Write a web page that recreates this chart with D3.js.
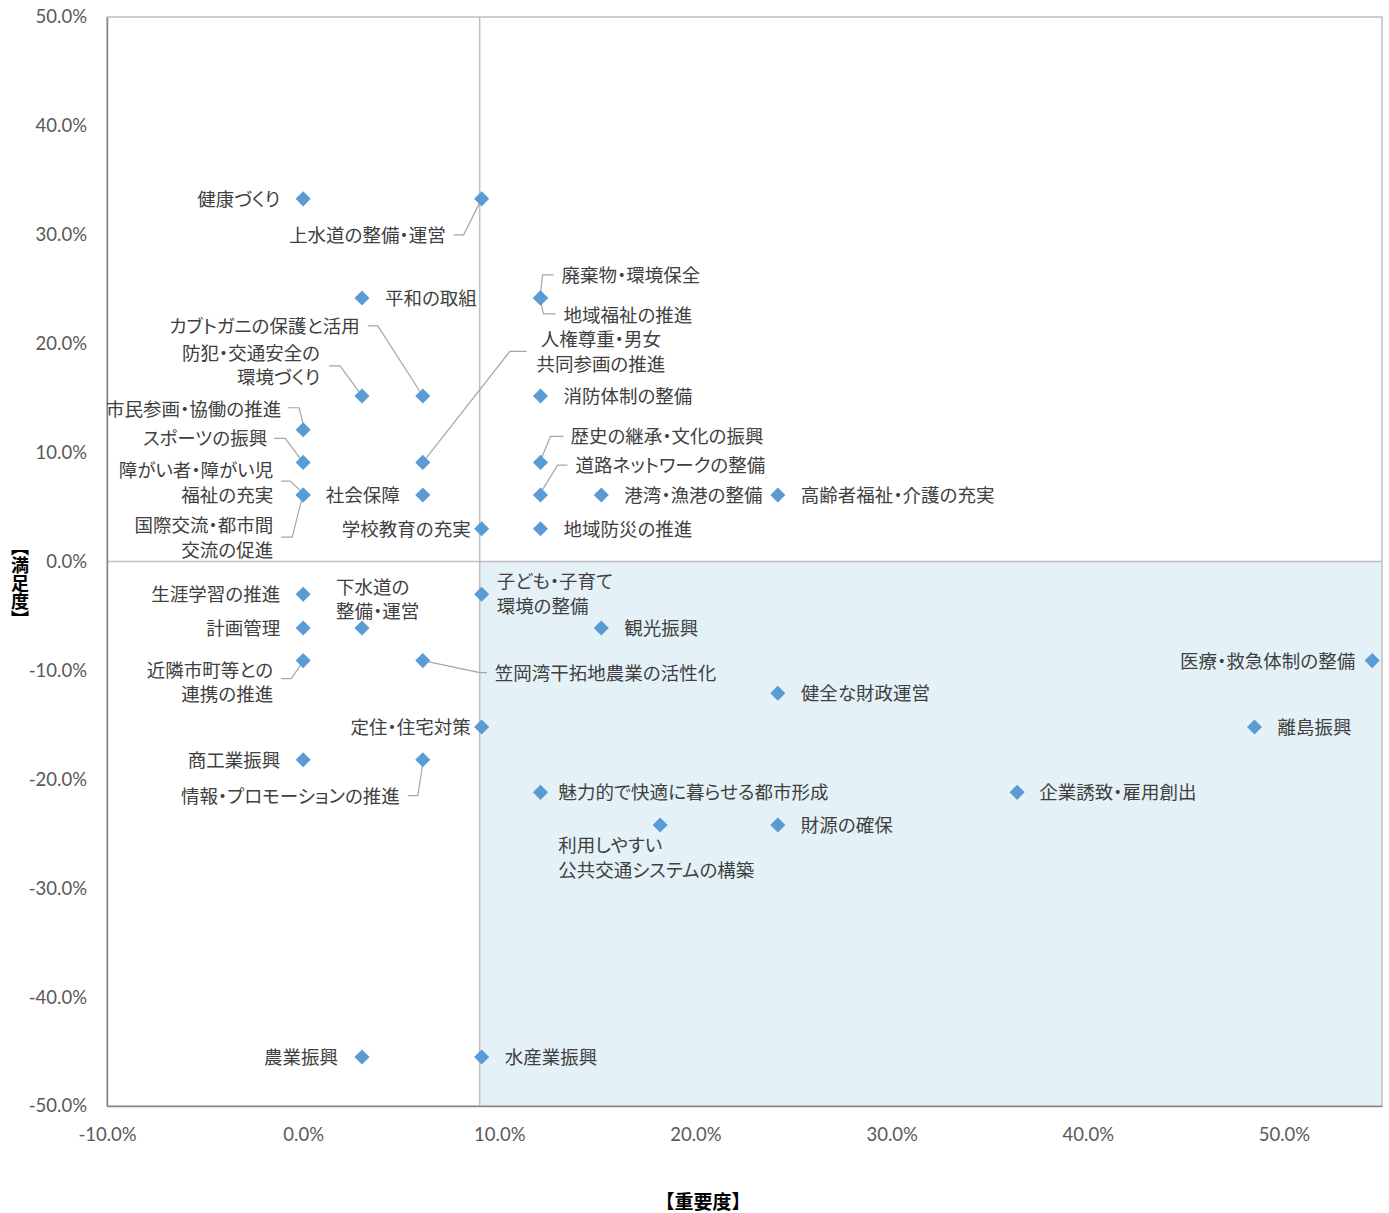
<!DOCTYPE html>
<html>
<head>
<meta charset="utf-8">
<script src="https://cdn.jsdelivr.net/npm/d3@7"></script>
<style>
  body { margin: 0; background: #fff; }
  svg { display: block; }
</style>
</head>
<body>
<svg id="chart" width="1389" height="1213"></svg>
<script>
// items (policy areas), importance (x, %) and satisfaction (y, %)
const names = [
  '健康づくり', '上水道の整備・運営', '平和の取組', '廃棄物・環境保全', '地域福祉の推進',
  'カブトガニの保護と活用', '防犯・交通安全の\n環境づくり', '人権尊重・男女\n共同参画の推進', '消防体制の整備',
  '市民参画・協働の推進', 'スポーツの振興', '障がい者・障がい児\n福祉の充実', '国際交流・都市間\n交流の促進',
  '社会保障', '学校教育の充実', '歴史の継承・文化の振興', '道路ネットワークの整備', '港湾・漁港の整備',
  '高齢者福祉・介護の充実', '地域防災の推進', '子ども・子育て\n環境の整備', '生涯学習の推進',
  '下水道の\n整備・運営', '計画管理', '観光振興', '近隣市町等との\n連携の推進', '笠岡湾干拓地農業の活性化',
  '医療・救急体制の整備', '健全な財政運営', '離島振興', '定住・住宅対策', '商工業振興',
  '情報・プロモーションの推進', '魅力的で快適に暮らせる都市形成', '企業誘致・雇用創出',
  '利用しやすい\n公共交通システムの構築', '財源の確保', '農業振興', '水産業振興'
];
const importance = [
  0, 9.1, 3.0, 12.1, 12.1,
  6.1, 3.0, 6.1, 12.1,
  0, 0, 0, 0,
  6.1, 9.1, 12.1, 12.1, 15.2,
  24.2, 12.1, 9.1, 0,
  3.0, 0, 15.2, 0, 6.1,
  54.5, 24.2, 48.5, 9.1, 0,
  6.1, 12.1, 36.4,
  18.2, 24.2, 3.0, 9.1
];
const satisfaction = [
  33.3, 33.3, 24.2, 24.2, 24.2,
  15.2, 15.2, 9.1, 15.2,
  12.1, 9.1, 6.1, 6.1,
  6.1, 3.0, 9.1, 6.1, 6.1,
  6.1, 3.0, -3.0, -3.0,
  -6.1, -6.1, -6.1, -9.1, -9.1,
  -9.1, -12.1, -15.2, -15.2, -18.2,
  -18.2, -21.2, -21.2,
  -24.2, -24.2, -45.5, -45.5
];
const xTicks = [-10, 0, 10, 20, 30, 40, 50];
const yTicks = [-50, -40, -30, -20, -10, 0, 10, 20, 30, 40, 50];
const dividerX = 9.0;   // importance split
const dividerY = 0;     // satisfaction split

// label placement (pixels relative to the point): [dx, dy, anchor, leader]
const R = [23, 0, 'start'], L = [-23, 0, 'end'];
const labelLayout = [
  L, [-36, 36, 'end', [[-28, 36], [-18, 36], [0, 0]]], R,
  [21, -23, 'start', [[13, -23], [2, -23], [0, -3]]],
  [23, 17, 'start', [[15, 16], [3, 16], [0, 3]]],
  [-63, -70, 'end', [[-55, -70], [-45, -70], [0, 0]]],
  [-42, -43, 'end', [[-33, -30], [-22, -30], [0, 0]]],
  [178, -123, 'middle', [[104, -111], [87, -111], [0, 0]]],
  R,
  [-22, -21, 'end', [[-15, -22], [-4, -22], [0, -6]]],
  [-36, -24, 'end', [[-29, -24], [-18, -24], [0, 0]]],
  [-30, -25, 'end', [[-22, -14], [-13, -14], [-1, -3]]],
  [-30, 30, 'end', [[-22, 42], [-11, 42], [-1, 3]]],
  L, [-11, 0, 'end'],
  [30, -26, 'start', [[23, -26], [10, -26], [0, -2]]],
  [35, -30, 'start', [[27, -30], [17, -30], [0, -2]]],
  R, R, R,
  [15, -13, 'start'], L,
  [-26, -41, 'start'], L, R,
  [-30, 9, 'end', [[-22, 18], [-12, 18], [0, 1]]],
  [72, 12, 'start', [[0, 0], [57, 12], [64, 12]]],
  [-17, 0, 'end'], R, R, [-11, 0, 'end'], L,
  [-23, 36, 'end', [[-15, 36], [-5, 36], [0, 4]]],
  [18, 0, 'start'], [22, 0, 'start'],
  [-102, 20, 'start'], R, [-24, 0, 'end'], R
];

const data = names.map((n, i) => ({
  name: n, x: importance[i], y: satisfaction[i], layout: labelLayout[i]
}));

const svg = d3.select('#chart');
const margin = { top: 17, left: 107, right: 7, bottom: 107 };
const width = 1389, height = 1213;

const x = d3.scaleLinear().domain([-10, 55]).range([margin.left, width - margin.right]);
const y = d3.scaleLinear().domain([-50, 50]).range([height - margin.bottom, margin.top]);

const cjk = "'Noto Sans CJK JP', 'Noto Sans', sans-serif";
const numFont = "Lato, 'Open Sans', sans-serif";

// shaded quadrant (high importance / low satisfaction)
svg.append('rect')
  .attr('x', x(dividerX))
  .attr('y', y(dividerY))
  .attr('width', x(55) - x(dividerX))
  .attr('height', y(-50) - y(dividerY))
  .style('fill', '#e4f2f7');

// frame
svg.append('rect')
  .attr('x', x(-10)).attr('y', y(50))
  .attr('width', x(55) - x(-10)).attr('height', y(-50) - y(50))
  .style('fill', 'none').style('stroke', '#bfbfbf').style('stroke-width', 1.5);

// divider lines
svg.append('line')
  .attr('x1', x(dividerX)).attr('x2', x(dividerX))
  .attr('y1', y(50)).attr('y2', y(-50))
  .style('stroke', '#bfbfbf').style('stroke-width', 1.5);
svg.append('line')
  .attr('x1', x(-10)).attr('x2', x(55))
  .attr('y1', y(dividerY)).attr('y2', y(dividerY))
  .style('stroke', '#bfbfbf').style('stroke-width', 1.5);

// axes
const fmt = (d) => d.toFixed(1) + '%';
const yAxis = svg.append('g')
  .attr('transform', `translate(${margin.left},0)`)
  .call(d3.axisLeft(y).tickValues(yTicks).tickFormat(fmt).tickSize(0).tickPadding(20));
const xAxis = svg.append('g')
  .attr('transform', `translate(0,${height - margin.bottom})`)
  .call(d3.axisBottom(x).tickValues(xTicks).tickFormat(fmt).tickSize(0).tickPadding(22));
[xAxis, yAxis].forEach((g) => {
  g.select('.domain').style('stroke', '#868686').style('stroke-width', 1.5);
  g.selectAll('text')
    .style('font-family', numFont)
    .style('font-size', '18.5px')
    .style('fill', '#595959');
});

// axis titles
svg.append('text')
  .attr('x', 703).attr('y', 1200)
  .attr('text-anchor', 'middle')
  .attr('dominant-baseline', 'central')
  .style('font-family', cjk).style('font-size', '19px').style('font-weight', 'bold')
  .style('fill', '#000')
  .text('【重要度】');

// vertical y title
svg.append('text')
  .attr('x', 20).attr('y', 583)
  .attr('text-anchor', 'middle')
  .style('writing-mode', 'vertical-rl')
  .style('text-orientation', 'upright')
  .style('font-family', cjk).style('font-size', '18px').style('font-weight', 'bold')
  .style('fill', '#000')
  .text('【満足度】');

// leader lines
const line = d3.line();
svg.append('g')
  .selectAll('path')
  .data(data.filter((d) => d.layout[3]))
  .enter()
  .append('path')
  .attr('d', (d) => line(d.layout[3].map((p) => [x(d.x) + p[0], y(d.y) + p[1]])))
  .style('fill', 'none')
  .style('stroke', '#a6a6a6')
  .style('stroke-width', 1.2);

// diamonds
svg.append('g')
  .selectAll('path')
  .data(data)
  .enter()
  .append('path')
  .attr('d', d3.symbol(d3.symbolDiamond2, 145))
  .attr('transform', (d) => `translate(${x(d.x)},${y(d.y)})`)
  .style('fill', '#5b9bd5');

// labels
const labels = svg.append('g')
  .selectAll('text')
  .data(data)
  .enter()
  .append('text')
  .attr('text-anchor', (d) => d.layout[2])
  .attr('dominant-baseline', 'central')
  .style('font-family', cjk)
  .style('font-size', '18.5px')
  .style('font-feature-settings', "'palt'")
  .style('fill', '#404040');
labels.each(function (d) {
  const t = d3.select(this);
  d.name.split('\n').forEach((s, k) => {
    t.append('tspan')
      .attr('x', x(d.x) + d.layout[0])
      .attr('y', y(d.y) + d.layout[1] - 1 + k * 24.5)
      .text(s);
  });
});
</script>
</body>
</html>
